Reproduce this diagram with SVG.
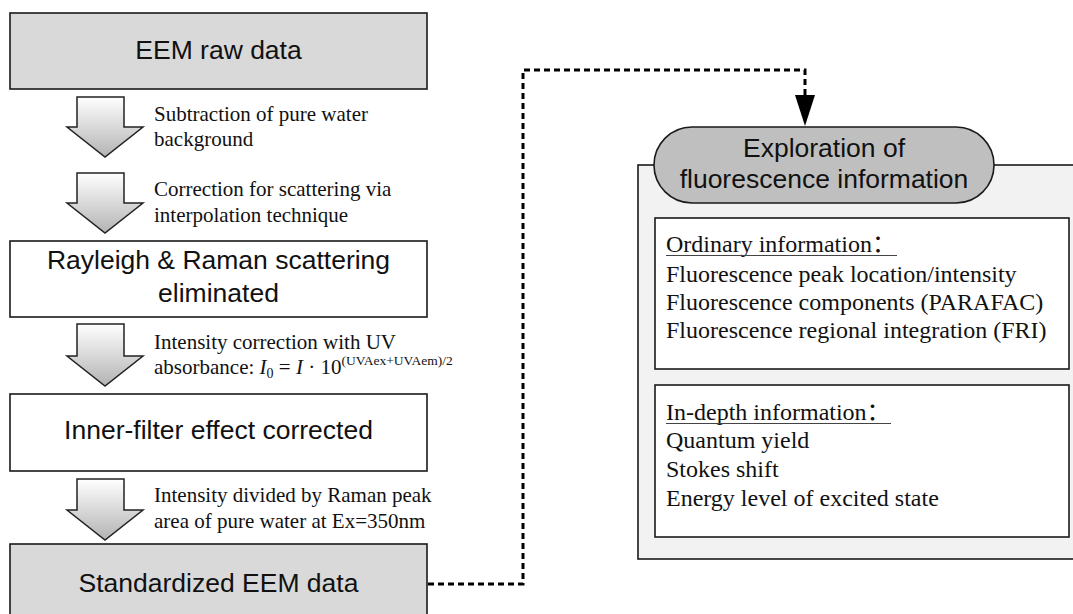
<svg xmlns="http://www.w3.org/2000/svg" width="1073" height="614" viewBox="0 0 1073 614">
<defs>
<linearGradient id="arrowGrad" x1="0" y1="0" x2="0" y2="1">
<stop offset="0" stop-color="#ffffff"/>
<stop offset="1" stop-color="#b3b3b3"/>
</linearGradient>
<style>
.box{stroke:#1a1a1a;stroke-width:1.6}
.gray{fill:#d9d9d9}
.white{fill:#ffffff}
.big{font-family:"Liberation Sans",Arial,sans-serif;font-size:26.5px;fill:#111;text-anchor:middle}
.note{font-family:"Liberation Serif","Times New Roman","Noto Sans CJK SC",serif;font-size:21px;fill:#111}
.info{font-family:"Liberation Serif","Times New Roman","Noto Sans CJK SC",serif;font-size:24px;fill:#111}
.arrow{fill:url(#arrowGrad);stroke:#222;stroke-width:1.5;stroke-linejoin:miter}
.dash{fill:none;stroke:#000;stroke-width:3;stroke-dasharray:6 4}
.ul{stroke:#444;stroke-width:1.2}
</style>
</defs>
<rect width="1073" height="614" fill="#ffffff"/>

<g id="node-raw">
<rect class="box gray" x="10" y="13" width="417" height="76"/>
<text class="big" x="218.5" y="59">EEM raw data</text>
</g>

<g id="step-subtraction">
<polygon class="arrow" points="77,97 124,97 124,127 143,127 105,157 67,127 77,127"/>
<text class="note" x="154" y="121">Subtraction of pure water</text>
<text class="note" x="154" y="146">background</text>
</g>

<g id="step-scattering">
<polygon class="arrow" points="77,173 124,173 124,203 143,203 105,233 67,203 77,203"/>
<text class="note" x="154" y="196">Correction for scattering via</text>
<text class="note" x="154" y="222">interpolation technique</text>
</g>

<g id="node-rayleigh">
<rect class="box white" x="10" y="241" width="417" height="76"/>
<text class="big" x="218.5" y="269">Rayleigh &amp; Raman scattering</text>
<text class="big" x="218.5" y="302">eliminated</text>
</g>

<g id="step-innerfilter">
<polygon class="arrow" points="77,324 124,324 124,356 143,356 105,386 67,356 77,356"/>
<text class="note" x="154" y="349">Intensity correction with UV</text>
<text class="note" x="154" y="374">absorbance: <tspan font-style="italic">I</tspan><tspan font-size="14" dy="4">0</tspan><tspan dy="-4"> = </tspan><tspan font-style="italic">I</tspan> · 10<tspan font-size="13.5" dy="-9">(UVAex+UVAem)/2</tspan></text>
</g>

<g id="node-innerfilter">
<rect class="box white" x="10" y="394" width="417" height="77"/>
<text class="big" x="218.5" y="439">Inner-filter effect corrected</text>
</g>

<g id="step-raman">
<polygon class="arrow" points="77,479 124,479 124,510 143,510 105,540 67,510 77,510"/>
<text class="note" x="154" y="502">Intensity divided by Raman peak</text>
<text class="note" x="154" y="528">area of pure water at Ex=350nm</text>
</g>

<g id="node-standardized">
<rect class="box gray" x="10" y="544" width="417" height="74"/>
<text class="big" x="218.5" y="592">Standardized EEM data</text>
</g>

<g id="connectors">
<path class="dash" d="M428,584 H523 V70 H805 V95"/>
<polygon points="795,95 815,95 805,126" fill="#000"/>
</g>

<g id="node-exploration">
<rect x="638" y="165" width="445" height="394" fill="#f2f2f2" stroke="#1a1a1a" stroke-width="1.6"/>
<rect x="654" y="127" width="340" height="76" rx="38" ry="38" fill="#bfbfbf" stroke="#1a1a1a" stroke-width="1.6"/>
<text class="big" x="824" y="157">Exploration of</text>
<text class="big" x="824" y="188">fluorescence information</text>
</g>

<g id="node-ordinary">
<rect class="box white" x="655" y="218" width="414" height="151"/>
<text class="info" x="666" y="252">Ordinary information：</text>
<line class="ul" x1="666" y1="255.5" x2="897" y2="255.5"/>
<text class="info" x="666" y="282">Fluorescence peak location/intensity</text>
<text class="info" x="666" y="310">Fluorescence components (PARAFAC)</text>
<text class="info" x="666" y="338">Fluorescence regional integration (FRI)</text>
</g>

<g id="node-indepth">
<rect class="box white" x="655" y="385" width="414" height="152"/>
<text class="info" x="666" y="420">In-depth information：</text>
<line class="ul" x1="666" y1="423.5" x2="891" y2="423.5"/>
<text class="info" x="666" y="448">Quantum yield</text>
<text class="info" x="666" y="477">Stokes shift</text>
<text class="info" x="666" y="506">Energy level of excited state</text>
</g>
</svg>
